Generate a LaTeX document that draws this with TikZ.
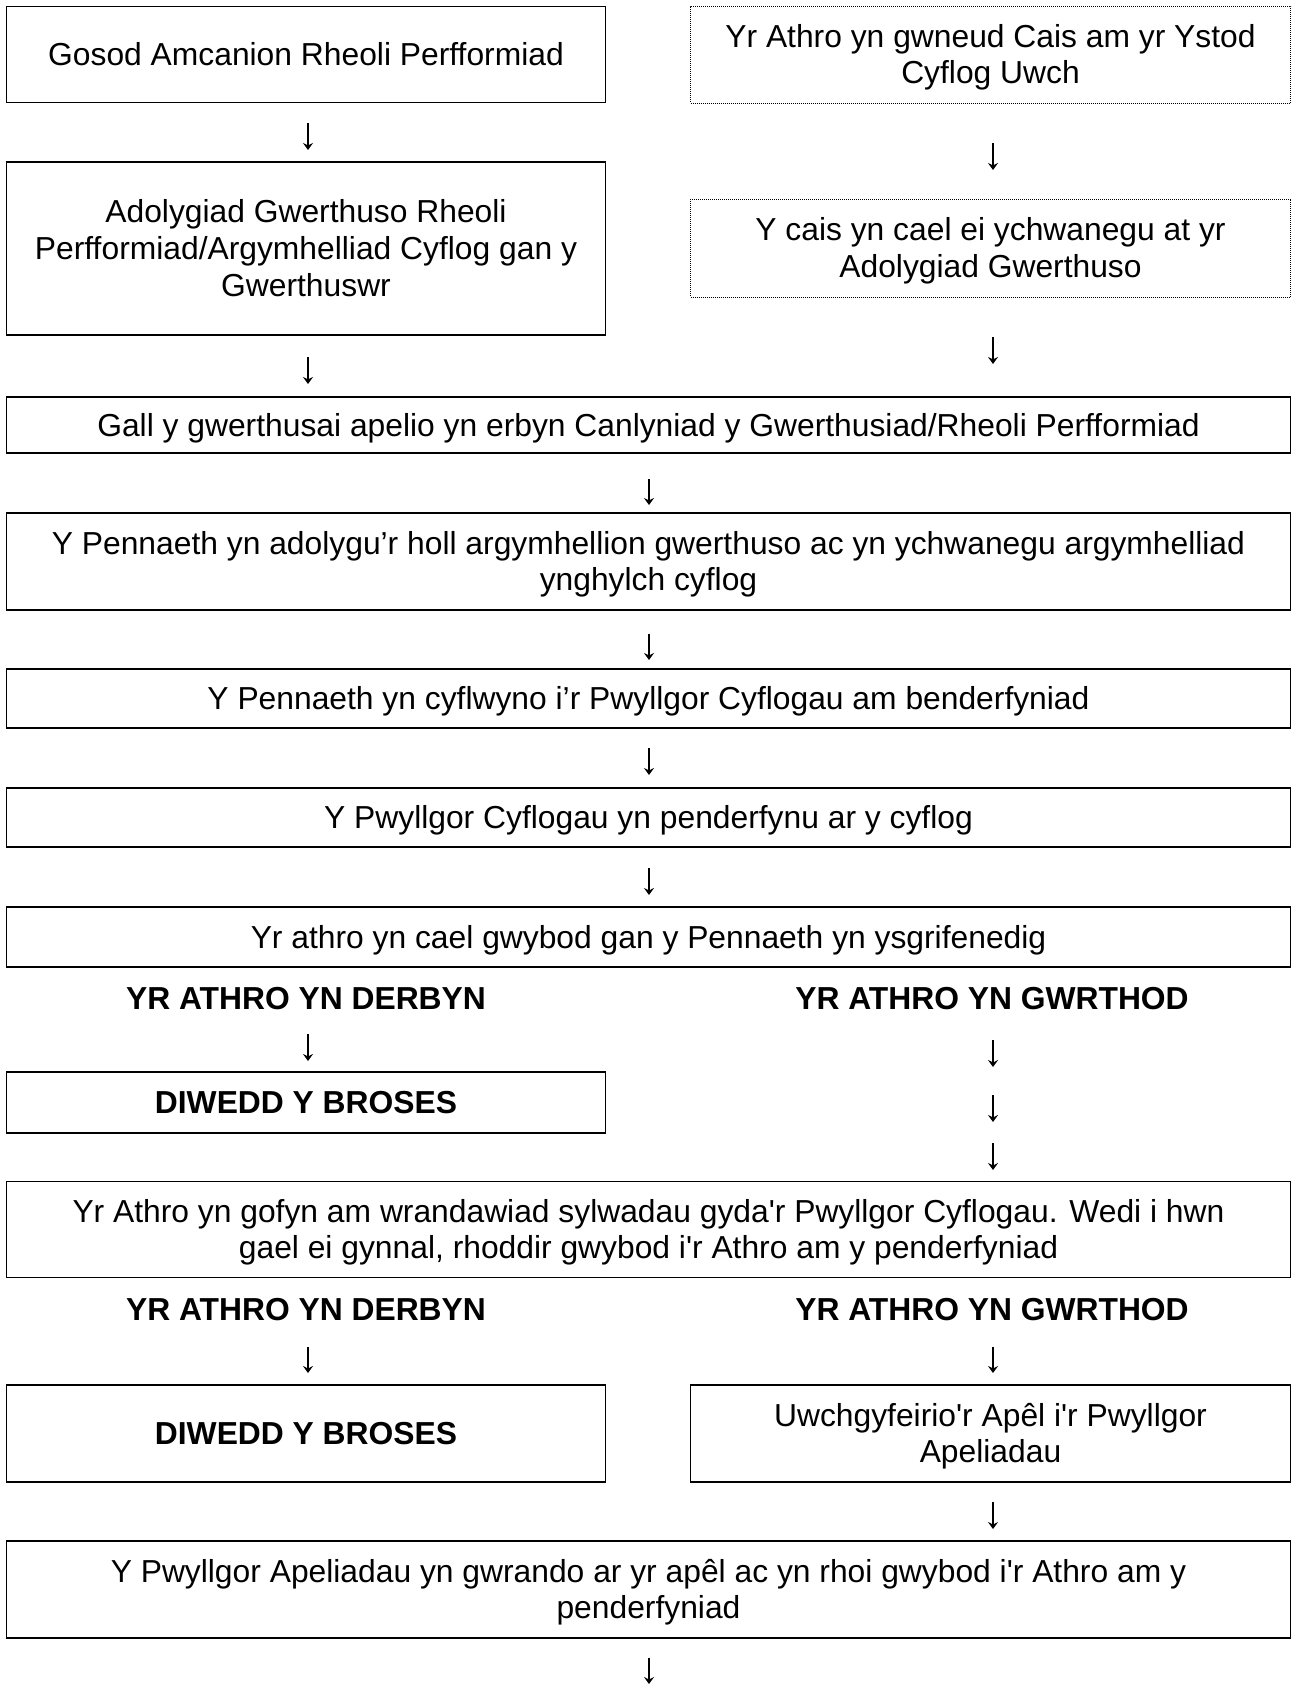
\documentclass[tikz,border=0pt]{standalone}
\usepackage{fontspec}
\setmainfont{Liberation Sans}
\usetikzlibrary{arrows.meta}
\newcommand\diagfont{\fontsize{31.8}{36.6}\selectfont}
\newcommand\ls{\rule[-6.7pt]{0pt}{35.5pt}}
\newcommand\sq{\textquotesingle}
\begin{document}
\begin{tikzpicture}[x=1pt,y=-1pt,
  box/.style={draw, line width=1.8pt, inner sep=0pt, align=center, font=\diagfont},
  dbox/.style={draw, line width=0.9pt, dash pattern=on 1pt off 1pt, inner sep=0pt, align=center, font=\diagfont},
  lcol/.style={minimum width=599pt},
  rcol/.style={minimum width=600pt},
  full/.style={minimum width=1284pt},
  lbl/.style={font=\diagfont\bfseries, inner sep=0pt},
  conn/.style={line width=1.3pt, -{Stealth[length=7pt, width=10pt, inset=2.5pt]}}]
\useasboundingbox (0,0) rectangle (1292,1685);
% top two columns
\node[box, lcol, minimum height=96pt] (b1) at (306,54.5) {\ls Gosod Amcanion Rheoli Perfformiad};
\node[dbox, rcol, minimum height=97pt] (b2) at (990.5,54.5) {\ls Yr Athro yn gwneud Cais am yr Ystod\\\ls Cyflog Uwch};
\node[box, lcol, minimum height=173pt] (b3) at (306,248.5) {\ls Adolygiad Gwerthuso Rheoli\\\ls Perfformiad/Argymhelliad Cyflog gan y\\\ls Gwerthuswr};
\node[dbox, rcol, minimum height=98pt] (b4) at (990.5,248) {\ls Y cais yn cael ei ychwanegu at yr\\\ls Adolygiad Gwerthuso};
% full-width chain
\node[box, full, minimum height=56pt] (b5) at (648.5,425) {\ls Gall y gwerthusai apelio yn erbyn Canlyniad y Gwerthusiad/Rheoli Perfformiad};
\node[box, full, minimum height=97pt] (b6) at (648.5,561.5) {\ls Y Pennaeth yn adolygu’r holl argymhellion gwerthuso ac yn ychwanegu argymhelliad\\\ls ynghylch cyflog};
\node[box, full, minimum height=59pt] (b7) at (648.5,698.5) {\ls Y Pennaeth yn cyflwyno i’r Pwyllgor Cyflogau am benderfyniad};
\node[box, full, minimum height=59pt] (b8) at (648.5,817.5) {\ls Y Pwyllgor Cyflogau yn penderfynu ar y cyflog};
\node[box, full, minimum height=60pt] (b9) at (648.5,937) {\ls Yr athro yn cael gwybod gan y Pennaeth yn ysgrifenedig};
% first decision
\node[lbl] (l1) at (306,998) {\ls YR ATHRO YN DERBYN};
\node[lbl] (l2) at (992,998) {\ls YR ATHRO YN GWRTHOD};
\node[box, lcol, minimum height=61pt, font=\diagfont\bfseries] (b10) at (306,1102.5) {\ls DIWEDD Y BROSES};
\node[box, full, minimum height=96pt] (b11) at (648.5,1229.5) {\ls Yr Athro yn gofyn am wrandawiad sylwadau gyda\sq r Pwyllgor Cyflogau. Wedi i hwn\\\ls gael ei gynnal, rhoddir gwybod i\sq r Athro am y penderfyniad};
% second decision
\node[lbl] (l3) at (306,1309) {\ls YR ATHRO YN DERBYN};
\node[lbl] (l4) at (992,1309) {\ls YR ATHRO YN GWRTHOD};
\node[box, lcol, minimum height=97pt, font=\diagfont\bfseries] (b12) at (306,1433.5) {\ls DIWEDD Y BROSES};
\node[box, rcol, minimum height=97pt] (b13) at (990.5,1433.5) {\ls Uwchgyfeirio\sq r Apêl i\sq r Pwyllgor\\\ls Apeliadau};
\node[box, full, minimum height=97pt] (b14) at (648.5,1589.5) {\ls Y Pwyllgor Apeliadau yn gwrando ar yr apêl ac yn rhoi gwybod i\sq r Athro am y\\\ls penderfyniad};
% arrow end points
\coordinate (a1s) at (308,123);  \coordinate (a1e) at (308,150);
\coordinate (a2s) at (993,143);  \coordinate (a2e) at (993,170);
\coordinate (a3s) at (308,357);  \coordinate (a3e) at (308,384);
\coordinate (a4s) at (993,337);  \coordinate (a4e) at (993,364);
\coordinate (a5s) at (649,479);  \coordinate (a5e) at (649,505);
\coordinate (a6s) at (649,634);  \coordinate (a6e) at (649,660);
\coordinate (a7s) at (649,748);  \coordinate (a7e) at (649,775);
\coordinate (a8s) at (649,868);  \coordinate (a8e) at (649,895);
\coordinate (a9s) at (308,1034); \coordinate (a9e) at (308,1061);
\coordinate (a10s) at (993,1040); \coordinate (a10e) at (993,1067);
\coordinate (a11s) at (993,1095); \coordinate (a11e) at (993,1122);
\coordinate (a12s) at (993,1143); \coordinate (a12e) at (993,1170);
\coordinate (a13s) at (308,1347); \coordinate (a13e) at (308,1373);
\coordinate (a14s) at (993,1347); \coordinate (a14e) at (993,1373);
\coordinate (a15s) at (993,1502); \coordinate (a15e) at (993,1529);
\coordinate (a16s) at (649,1658); \coordinate (a16e) at (649,1684);
\foreach \i in {1,...,16} {\draw[conn] (a\i s) -- (a\i e);}
\end{tikzpicture}
\end{document}
